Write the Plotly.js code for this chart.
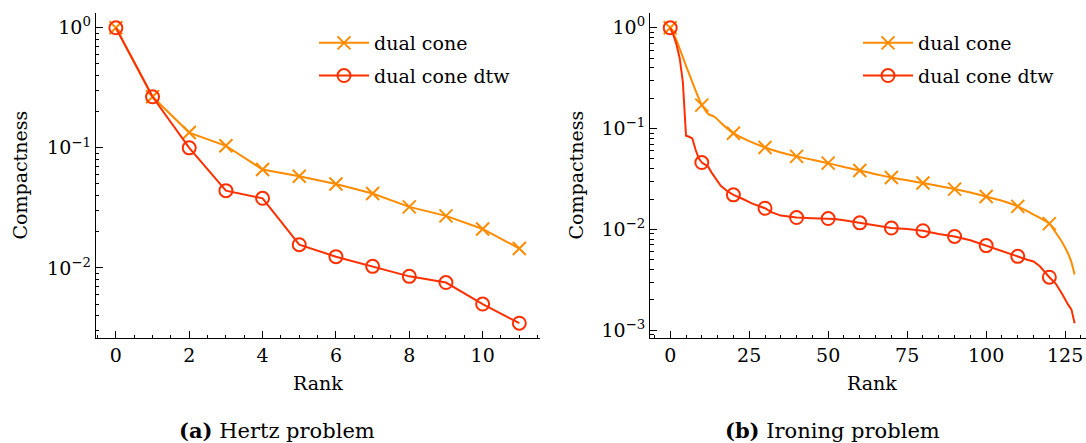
<!DOCTYPE html>
<html>
<head>
<meta charset="utf-8">
<script src="https://cdn.plot.ly/plotly-3.0.1.min.js"></script>
<style>html,body{margin:0;padding:0;overflow:hidden;background:#fff}</style>
</head>
<body>
<div id="chart" style="width:1086px;height:443px"></div>
<script>
// ---------- data ----------
const seriesNames = ['dual cone', 'dual cone dtw'];

// (a) Hertz problem
const hertzRank = [0, 1, 2, 3, 4, 5, 6, 7, 8, 9, 10, 11];
const hertzCone = [1.0, 0.266, 0.134, 0.104, 0.066, 0.058, 0.050, 0.0416, 0.0322, 0.0271, 0.0211, 0.0145];
const hertzDtw  = [1.0, 0.266, 0.100, 0.044, 0.038, 0.0156, 0.0124, 0.0103, 0.0085, 0.00755, 0.0050, 0.00346];

// (b) Ironing problem
const ironRankCone = [0, 2, 5, 8, 10, 12, 14, 17, 20, 25, 30, 35, 40, 45, 50, 55, 60, 65, 70, 75, 80, 85, 90, 95, 100, 105, 110, 114, 117, 120, 122, 124, 126, 127, 128];
const ironCone     = [1.0, 0.75, 0.42, 0.24, 0.171, 0.140, 0.131, 0.107, 0.090, 0.075, 0.065, 0.058, 0.053, 0.049, 0.0454, 0.0415, 0.0384, 0.0353, 0.0327, 0.0307, 0.0288, 0.0269, 0.0251, 0.0232, 0.0212, 0.0192, 0.0169, 0.0146, 0.0130, 0.0114, 0.0093, 0.0075, 0.0057, 0.0047, 0.00356];
const ironRankDtw  = [0, 1, 2, 3, 4, 5, 6, 7, 8, 9, 10, 11, 12, 13, 14, 16, 18, 20, 23, 26, 30, 32, 35, 40, 45, 50, 52, 55, 60, 65, 70, 75, 80, 85, 90, 95, 100, 105, 110, 113, 115, 117, 120, 122, 124, 125, 126, 127, 128];
const ironDtw      = [1.0, 0.85, 0.68, 0.50, 0.29, 0.085, 0.083, 0.080, 0.062, 0.051, 0.046, 0.044, 0.042, 0.037, 0.033, 0.027, 0.024, 0.022, 0.020, 0.018, 0.0162, 0.0148, 0.0137, 0.0131, 0.0129, 0.0128, 0.0127, 0.0123, 0.0116, 0.0108, 0.0103, 0.0101, 0.0097, 0.0090, 0.0085, 0.0078, 0.0069, 0.0060, 0.0054, 0.0050, 0.0048, 0.0043, 0.00335, 0.0029, 0.0023, 0.0020, 0.00178, 0.0016, 0.00117];

// tick labels
const xTicksA = [0, 2, 4, 6, 8, 10];
const xTicksB = [0, 25, 50, 75, 100, 125];
const yTickValsA = [0.01, 0.1, 1];
const yTickTextA = ['10<sup>−2</sup>', '10<sup>−1</sup>', '10<sup>0</sup>'];
const yTickValsB = [0.001, 0.01, 0.1, 1];
const yTickTextB = ['10<sup>−3</sup>', '10<sup>−2</sup>', '10<sup>−1</sup>', '10<sup>0</sup>'];
const axisTitleX = 'Rank';
const axisTitleY = 'Compactness';
const captionA = '<b>(a)</b> Hertz problem';
const captionB = '<b>(b)</b> Ironing problem';

// ---------- style ----------
const W = 1086, H = 443;
const FONT = '"DejaVu Serif", serif';
const FS = 19;
const FSCAP = 21;
const ORANGE = '#ff8c00';
const RED = '#ff3000';
const CLEAR = 'rgba(0,0,0,0)';
const px = v => v / W;
const py = v => 1 - v / H;

function minorLog(lo, hi) {
  const out = [];
  for (let e = lo; e <= hi; e++) for (let m = 2; m <= 9; m++) out.push(m * Math.pow(10, e));
  return out;
}

// markers shown only every n-th rank (like matplotlib markevery)
const markEvery = (ranks, n, c) => ranks.map(r => (r % n === 0 ? c : CLEAR));

const traces = [
  {x: hertzRank, y: hertzCone, name: seriesNames[0], legendgroup: 'a0', mode: 'lines+markers', xaxis: 'x', yaxis: 'y', legend: 'legend',
   line: {color: ORANGE, width: 2}, marker: {symbol: 'x-thin-open', size: 13, color: ORANGE, line: {width: 2, color: ORANGE}}},
  {x: hertzRank, y: hertzDtw, name: seriesNames[1], legendgroup: 'a1', mode: 'lines+markers', xaxis: 'x', yaxis: 'y', legend: 'legend',
   line: {color: RED, width: 2}, marker: {symbol: 'circle-open', size: 13, color: RED, line: {width: 2, color: RED}}},
  {x: ironRankCone, y: ironCone, name: seriesNames[0], legendgroup: 'b0', mode: 'lines+markers', xaxis: 'x2', yaxis: 'y2', legend: 'legend2',
   line: {color: ORANGE, width: 2, shape: 'spline', smoothing: 0.4},
   marker: {symbol: 'x-thin-open', size: 13, color: markEvery(ironRankCone, 10, ORANGE), line: {width: 2, color: markEvery(ironRankCone, 10, ORANGE)}}},
  {x: ironRankDtw, y: ironDtw, name: seriesNames[1], legendgroup: 'b1', mode: 'lines+markers', xaxis: 'x2', yaxis: 'y2', legend: 'legend2',
   line: {color: RED, width: 2},
   marker: {symbol: 'circle-open', size: 13, color: markEvery(ironRankDtw, 10, RED), line: {width: 2, color: markEvery(ironRankDtw, 10, RED)}}}
];

const axBase = {
  showline: true, linecolor: '#000', linewidth: 1, showgrid: false, zeroline: false,
  ticks: 'inside', ticklen: 7, tickwidth: 1, tickcolor: '#000', automargin: false,
  tickfont: {family: FONT, size: FS, color: '#000'}
};

const plotTop = 13, plotBot = 338;

const legendBase = {xanchor: 'left', yanchor: 'top', bgcolor: 'rgba(0,0,0,0)', borderwidth: 0,
  font: {family: FONT, size: FS, color: '#000'}, itemwidth: 50, tracegroupgap: 5};

const layout = {
  width: W, height: H,
  margin: {l: 0, r: 0, t: 0, b: 0},
  paper_bgcolor: '#fff', plot_bgcolor: '#fff',
  font: {family: FONT, size: FS, color: '#000'},
  xaxis: Object.assign({}, axBase, {domain: [px(95.7), px(539.5)], range: [-0.55, 11.55], anchor: 'y',
    tickvals: xTicksA, minor: {dtick: 0.5, tick0: 0, ticks: 'inside', ticklen: 3.5, tickcolor: '#000', tickwidth: 1}}),
  yaxis: Object.assign({}, axBase, {domain: [py(plotBot), py(plotTop)], type: 'log', range: [-2.584, 0.123], anchor: 'x',
    tickvals: yTickValsA, ticktext: yTickTextA,
    minor: {tickvals: minorLog(-3, 0), ticks: 'inside', ticklen: 3.5, tickcolor: '#000', tickwidth: 1}}),
  xaxis2: Object.assign({}, axBase, {domain: [px(650), 1], range: [-6.4, 131.6], anchor: 'y2',
    tickvals: xTicksB, minor: {dtick: 5, tick0: 0, ticks: 'inside', ticklen: 3.5, tickcolor: '#000', tickwidth: 1}}),
  yaxis2: Object.assign({}, axBase, {domain: [py(plotBot), py(plotTop)], type: 'log', range: [-3.078, 0.147], anchor: 'x2',
    tickvals: yTickValsB, ticktext: yTickTextB,
    minor: {tickvals: minorLog(-4, 0), ticks: 'inside', ticklen: 3.5, tickcolor: '#000', tickwidth: 1}}),
  legend: Object.assign({}, legendBase, {x: px(314), y: py(24)}),
  legend2: Object.assign({}, legendBase, {x: px(858), y: py(24)}),
  showlegend: true,
  annotations: [
    {text: axisTitleX, xref: 'paper', yref: 'paper', x: px(317.6), y: py(383), xanchor: 'center', yanchor: 'middle', showarrow: false, font: {family: FONT, size: FS}},
    {text: axisTitleX, xref: 'paper', yref: 'paper', x: px(872), y: py(383), xanchor: 'center', yanchor: 'middle', showarrow: false, font: {family: FONT, size: FS}},
    {text: axisTitleY, xref: 'paper', yref: 'paper', x: px(19), y: py(175.5), xanchor: 'center', yanchor: 'middle', textangle: -90, showarrow: false, font: {family: FONT, size: FS}},
    {text: axisTitleY, xref: 'paper', yref: 'paper', x: px(575), y: py(175.5), xanchor: 'center', yanchor: 'middle', textangle: -90, showarrow: false, font: {family: FONT, size: FS}},
    {text: captionA, xref: 'paper', yref: 'paper', x: px(277), y: py(430), xanchor: 'center', yanchor: 'middle', showarrow: false, font: {family: FONT, size: FSCAP}},
    {text: captionB, xref: 'paper', yref: 'paper', x: px(832), y: py(430), xanchor: 'center', yanchor: 'middle', showarrow: false, font: {family: FONT, size: FSCAP}}
  ]
};

Plotly.newPlot('chart', traces, layout, {displayModeBar: false, staticPlot: true});
</script>
</body>
</html>
